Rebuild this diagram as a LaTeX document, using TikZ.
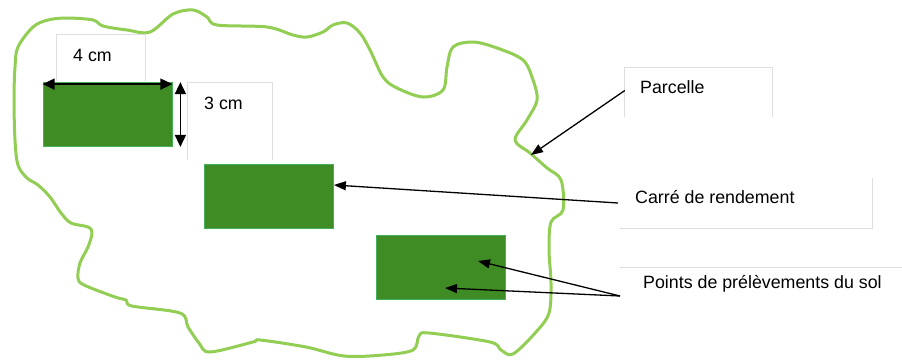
\documentclass[tikz,border=0pt]{standalone}
\usepackage{fontspec}
\setmainfont{Liberation Sans}
\usetikzlibrary{arrows.meta}
\definecolor{blobgreen}{RGB}{146,206,84}
\definecolor{rectgreen}{RGB}{62,140,35}
\definecolor{rectedge}{RGB}{70,175,90}
\definecolor{framegrey}{RGB}{222,222,222}
\tikzset{
  plot/.style={fill=rectgreen, draw=rectedge, line width=0.8pt, minimum width=129pt, minimum height=64pt, inner sep=0pt},
  lbox/.style={fill=white, draw=none, inner sep=0pt},
  frame/.style={draw=framegrey, line width=1pt},
  lbl/.style={inner sep=0pt, anchor=base west, font=\fontsize{17.8}{21}\selectfont},
  pointer/.style={draw=black, line width=1.3pt, -{Triangle[length=12pt,width=9pt]}},
  dim/.style={draw=black, line width=1.6pt, {Triangle[length=12pt,width=11pt]}-{Triangle[length=12pt,width=11pt]}},
}
\begin{document}
\begin{tikzpicture}[x=1pt,y=-1pt]
\useasboundingbox (0,0) rectangle (902,359);
\fill[white] (0,0) rectangle (902,359);
% parcel outline
\draw[blobgreen, line width=3pt, line join=round] plot[smooth cycle, tension=0.55] coordinates {
(18,47) (33,27) (48,20) (67,18) (93,20) (103,26) (127,30) (150,32) (173,14) (193,10) (207,17) (217,25) (267,27) (293,35) (307,37) (323,32) (333,25) (347,23) (360,33) (370,50) (383,77) (397,88) (423,97) (443,90) (447,67) (453,47) (473,42) (497,48) (523,60) (533,80) (537,100) (527,120) (515,140) (530,153) (547,168) (561,180) (563,210) (551,222) (549,250) (551,283) (549,313) (536,332) (513,354) (501,350) (490,342) (429,333) (419,336) (413,350) (383,355) (344,356) (306,347) (260,340) (253,342) (210,352) (199,343) (188,327) (180,313) (132,306) (126,300) (115,297) (84,285) (78,278) (80,263) (88,247) (92,233) (88,227) (71,223) (61,213) (50,197) (38,185) (27,178) (18,165) (15,140) (14,100) (15,67)};
% label boxes
\node[lbox, minimum width=88pt, minimum height=46pt] (b4) at (101,58) {};
\draw[frame] (b4.south west) |- (b4.north east) -- (b4.south east);
\node[lbox, minimum width=84pt, minimum height=77pt] (b3) at (230,121.5) {};
\draw[frame] (b3.south west) |- (b3.north east) -- (b3.south east);
\node[lbox, minimum width=147pt, minimum height=49pt] (bp) at (698.5,92.5) {};
\draw[frame] (bp.south west) |- (bp.north east) -- (bp.south east);
\node[lbox, minimum width=252pt, minimum height=50pt] (bc) at (746,203) {};
\draw[frame] (bc.south west) -| (bc.north east);
\node[lbox, minimum width=282pt, minimum height=40pt] (bs) at (761,288) {};
\draw[frame] (bs.north west) -- (bs.north east);
% yield squares
\node[plot] (r1) at (107.5,114.5) {};
\node[plot] (r2) at (269,196.5) {};
\node[plot] (r3) at (441,267) {};
% texts
\node[lbl] (t4) at (73,61) {4 cm};
\node[lbl] (t3) at (204,109) {3 cm};
\node[lbl] (tp) at (640,93) {Parcelle};
\node[lbl] (tc) at (635,203) {Carré de rendement};
\node[lbl] (ts) at (643,288) {Points de prélèvements du sol};
% dimension arrows
\coordinate (d4a) at (r1.north west);
\coordinate (d4b) at (r1.north east);
\draw[dim] ([yshift=-2pt]d4a) -- ([yshift=-2pt]d4b);
\coordinate (d3a) at ([xshift=8pt]r1.north east);
\coordinate (d3b) at ([xshift=8pt]r1.south east);
\draw[dim] (d3a) -- (d3b);
% pointers
\coordinate (pp) at (531,155);
\coordinate (ps1) at (478,261);
\coordinate (ps2) at (445,288);
\coordinate (sp) at (620,296);
\draw[pointer] (bp.west) ++(0,-2) -- (pp);
\draw[pointer] (618,203) -- (r2.east |- 0,185);
\draw[pointer] (sp) -- (ps1);
\draw[pointer] (sp) -- (ps2);
\end{tikzpicture}
\end{document}
